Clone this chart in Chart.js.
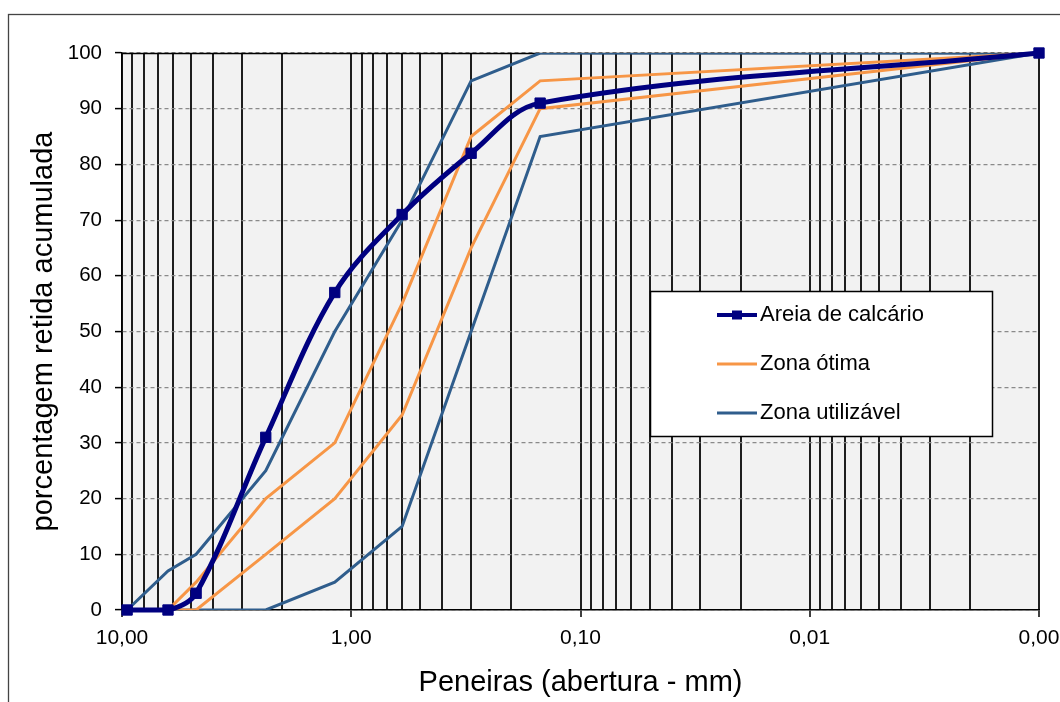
<!DOCTYPE html>
<html><head><meta charset="utf-8">
<script src="https://cdn.jsdelivr.net/npm/chart.js@4.4.1/dist/chart.umd.min.js"></script>
<style>html,body{margin:0;padding:0;background:#fff;} canvas{display:block;}</style>
</head><body>
<canvas id="c" width="1060" height="702"></canvas>
<script>
// Sieve openings (mm); last point = pan plotted at 0.001
const sieves = [9.5, 6.3, 4.75, 2.36, 1.18, 0.6, 0.3, 0.15, 0.001];
const areia    = [0, 0, 3, 31, 57, 71, 82, 91, 100];
const otimaInf = [0, 0, 0, 10, 20, 35, 65, 90, 100];
const otimaSup = [0, 0, 5, 20, 30, 55, 85, 95, 100];
const utilInf  = [0, 0, 0, 0, 5, 15, 50, 85, 100];
const utilSup  = [0, 7, 10, 25, 50, 70, 95, 100, 100];

const xTickValues = [10,9,8,7,6,5,4,3,2,1,0.9,0.8,0.7,0.6,0.5,0.4,0.3,0.2,0.1,
  0.09,0.08,0.07,0.06,0.05,0.04,0.03,0.02,0.01,0.009,0.008,0.007,0.006,0.005,0.004,0.003,0.002,0.001];
const majorTicks = [10, 1, 0.1, 0.01, 0.001];
const majorLabels = ['10,00', '1,00', '0,10', '0,01', '0,00'];

const FAMILY = "'Liberation Sans', Arial, sans-serif";
const NAVY = '#000080', ORANGE = '#F79646', STEEL = '#2F5D8C';

const toPts = ys => sieves.map((s, i) => ({x: s, y: ys[i]}));

const bgPlugin = {
  id: 'bg',
  beforeDraw(chart) {
    const {ctx, chartArea: a} = chart;
    ctx.save();
    ctx.fillStyle = '#fff';
    ctx.fillRect(0, 0, chart.width, chart.height);
    ctx.fillStyle = '#f2f2f2';
    ctx.fillRect(a.left, a.top, a.right - a.left, a.bottom - a.top);
    ctx.strokeStyle = '#444';
    ctx.lineWidth = 1.3;
    ctx.strokeRect(8.5, 14.5, 1100, 800);
    ctx.restore();
  },
  beforeDatasetsDraw(chart) {
    const {ctx, chartArea: a} = chart;
    ctx.save();
    ctx.strokeStyle = '#000';
    ctx.lineWidth = 1.5;
    ctx.beginPath();
    ctx.moveTo(a.left, a.top + 0.5);
    ctx.lineTo(a.right, a.top + 0.5);
    ctx.stroke();
    ctx.restore();
  }
};

const legendPlugin = {
  id: 'boxLegend',
  afterDraw(chart) {
    const {ctx} = chart;
    const seen = [];
    chart.data.datasets.forEach(d => { if (!seen.find(s => s.label === d.label)) seen.push(d); });
    const bx = 650.5, by = 291.5, bw = 342, bh = 145;
    ctx.save();
    ctx.fillStyle = '#fff';
    ctx.fillRect(bx, by, bw, bh);
    ctx.strokeStyle = '#000';
    ctx.lineWidth = 1.5;
    ctx.strokeRect(bx, by, bw, bh);
    ctx.font = '22px ' + FAMILY;
    ctx.textBaseline = 'middle';
    ctx.textAlign = 'left';
    seen.forEach((d, i) => {
      const y = 315 + i * 49;
      ctx.strokeStyle = d.borderColor;
      ctx.lineWidth = d.borderWidth > 3 ? 4 : 3;
      ctx.beginPath();
      ctx.moveTo(717, y);
      ctx.lineTo(757, y);
      ctx.stroke();
      if (d.pointRadius > 0) {
        ctx.fillStyle = d.borderColor;
        ctx.fillRect(732, y - 4.5, 10, 9);
      }
      ctx.fillStyle = '#000';
      ctx.fillText(d.label, 760, y);
    });
    ctx.restore();
  }
};

const zone = (label, ys, color) => ({
  label, data: toPts(ys), borderColor: color, backgroundColor: color,
  borderWidth: 3, pointRadius: 0, tension: 0, fill: false
});

new Chart(document.getElementById('c'), {
  type: 'line',
  data: {
    datasets: [
      {label: 'Areia de calcário', data: toPts(areia), borderColor: NAVY, backgroundColor: NAVY,
       pointBackgroundColor: NAVY, pointBorderColor: NAVY, borderWidth: 5, pointStyle: 'rect',
       pointRadius: 7.3, pointBorderWidth: 1, tension: 0.35, fill: false, clip: false},
      zone('Zona ótima', otimaSup, ORANGE),
      zone('Zona ótima', otimaInf, ORANGE),
      zone('Zona utilizável', utilSup, STEEL),
      zone('Zona utilizável', utilInf, STEEL)
    ]
  },
  options: {
    responsive: false, animation: false, devicePixelRatio: 1,
    layout: {padding: {left: 0, top: 53, right: 21, bottom: 0}},
    plugins: {legend: {display: false}, tooltip: {enabled: false}},
    scales: {
      x: {
        type: 'logarithmic', reverse: true, min: 0.001, max: 10,
        afterBuildTicks: s => { s.ticks = xTickValues.map(v => ({value: v})); },
        afterFit: s => { s.height = 92; s.paddingLeft = 0; s.paddingRight = 0; },
        ticks: {
          autoSkip: false, maxRotation: 0, minRotation: 0, padding: 9,
          font: {size: 21, family: FAMILY}, color: '#000',
          callback: v => { const i = majorTicks.indexOf(v); return i >= 0 ? majorLabels[i] : ''; }
        },
        grid: {
          color: '#1e1e1e', lineWidth: 2, tickLength: 7, tickWidth: 1.5,
          tickColor: c => (c.tick && majorTicks.includes(c.tick.value)) ? '#000' : 'rgba(0,0,0,0)'
        },
        border: {color: '#000', width: 1.5},
        title: {display: true, text: 'Peneiras (abertura - mm)', color: '#000',
                font: {size: 29, family: FAMILY}, padding: {top: 0, bottom: 2}}
      },
      y: {
        min: 0, max: 100,
        afterFit: s => { s.width = 122; },
        ticks: {stepSize: 10, padding: 13, font: {size: 20.5, family: FAMILY}, color: '#000'},
        grid: {color: '#8a8a8a', lineWidth: 1.2, tickLength: 7, tickColor: '#000', tickWidth: 1.5},
        border: {color: '#000', width: 1.5, dash: [4, 3]},
        title: {display: true, text: 'porcentagem retida acumulada', color: '#000',
                font: {size: 29, family: FAMILY}, padding: {top: 27, bottom: 0}}
      }
    }
  },
  plugins: [bgPlugin, legendPlugin]
});
</script>
</body></html>
